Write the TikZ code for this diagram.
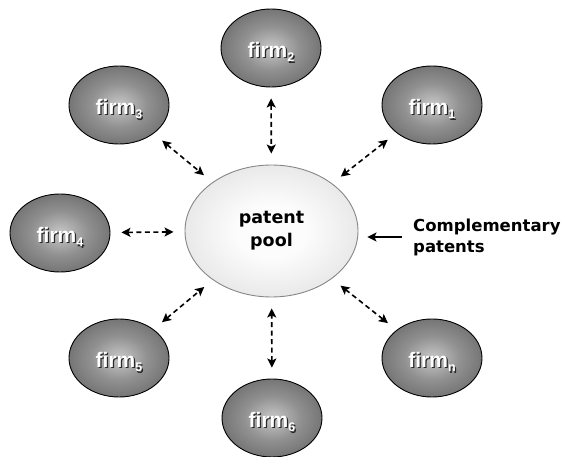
\documentclass[tikz,border=0pt]{standalone}
\usepackage{fontspec}
\setmainfont{DejaVu Sans}
\newfontfamily\firmfont{Liberation Sans}[BoldFont={Liberation Sans Bold}]
\usetikzlibrary{shapes.geometric,arrows.meta}

\definecolor{firmin}{RGB}{200,200,200}
\definecolor{firmmid}{RGB}{145,145,145}
\definecolor{firmout}{RGB}{55,55,55}
\definecolor{poolin}{RGB}{252,252,252}
\definecolor{poolout}{RGB}{202,202,202}
\definecolor{poolrim}{RGB}{135,135,135}
\definecolor{shadowgray}{RGB}{40,40,40}

\pgfdeclareradialshading{firmshade}{\pgfpoint{0bp}{0bp}}{%
  color(0bp)=(firmin); color(14bp)=(firmmid); color(50bp)=(firmout)}
\pgfdeclareradialshading{poolshade}{\pgfpoint{0bp}{0bp}}{%
  color(0bp)=(poolin); color(10bp)=(poolin); color(50bp)=(poolout)}

% "firm" with its index, set in white over a small dark drop shadow
\newcommand{\firmtxt}[1]{firm\raisebox{-4.5pt}{\fontsize{12.5}{12.5}\selectfont#1}}
\newcommand{\firmlbl}[1]{\rlap{\kern1.3pt\raisebox{-1.3pt}{\color{shadowgray}\firmtxt{#1}}}\textcolor{white}{\firmtxt{#1}}}

\begin{document}
\begin{tikzpicture}[x=1pt,y=-1pt,
  firm/.style={ellipse, draw=black, line width=0.9pt,
    minimum width=100pt, minimum height=78pt, inner sep=0pt,
    shading=firmshade, text height=19pt, text depth=0pt,
    font=\firmfont\bfseries\upshape\fontsize{21}{21}\selectfont},
  pool/.style={ellipse, draw=poolrim, line width=0.9pt,
    minimum width=173pt, minimum height=132pt, inner sep=0pt,
    shading=poolshade, align=center,
    font=\bfseries\fontsize{17.5}{23}\selectfont},
  link/.style={line width=1.6pt, dash pattern=on 5pt off 3.5pt,
    {Stealth[length=9pt,width=9pt,inset=2pt]}-{Stealth[length=9pt,width=9pt,inset=2pt]},
    shorten <=11pt, shorten >=11pt},
  feed/.style={line width=1.6pt, -{Stealth[length=9pt,width=9pt,inset=2pt]},
    shorten >=9pt}]
\useasboundingbox (0,0) rectangle (566,457);

\node[pool] (pool) at (271.5,231) {patent\\pool};

\node[firm] (f1) at (432,105) {\firmlbl{1}};
\node[firm] (f2) at (271,48)  {\firmlbl{2}};
\node[firm] (f3) at (119,105) {\firmlbl{3}};
\node[firm] (f4) at (60,233)  {\firmlbl{4}};
\node[firm] (f5) at (119,358) {\firmlbl{5}};
\node[firm] (f6) at (272,418) {\firmlbl{6}};
\node[firm] (fn) at (432,358) {\firmlbl{n}};

\node[anchor=west, inner sep=0pt, align=left,
      font=\bfseries\fontsize{16.5}{21}\selectfont] (comp) at (413,237)
  {Complementary\\patents};

\foreach \f in {f1,f2,f3,f4,f5,f6,fn}
  \draw[link] (\f) -- (pool);

\draw[feed] ([xshift=-11pt]comp.west) -- (comp.west -| pool.east);
\end{tikzpicture}
\end{document}
